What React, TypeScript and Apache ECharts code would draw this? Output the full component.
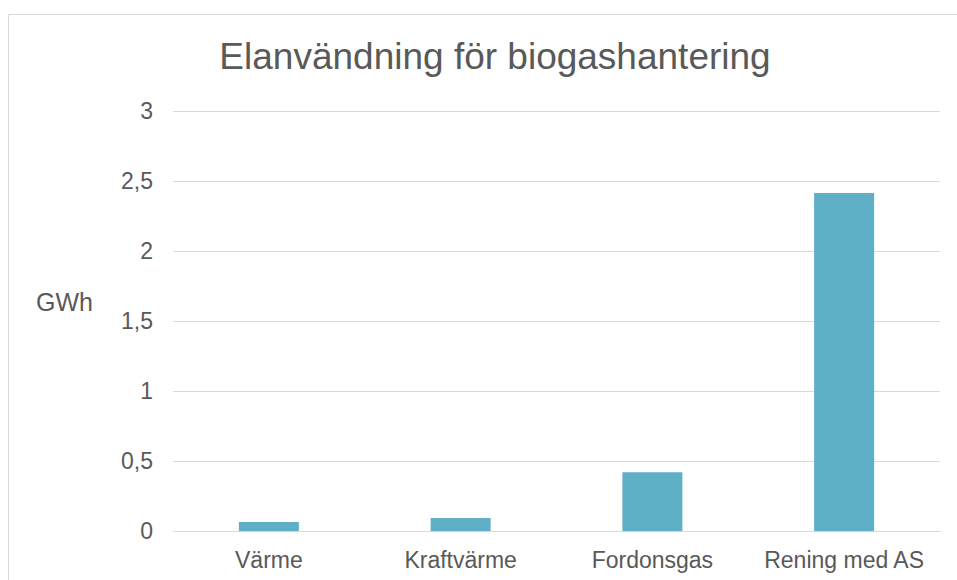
import React, { useEffect, useRef } from "react";
import * as echarts from "echarts";

const categories = ["Värme", "Kraftvärme", "Fordonsgas", "Rening med AS"];
const values = [0.065, 0.093, 0.42, 2.414];
const yTicks = [0, 0.5, 1, 1.5, 2, 2.5, 3];
const titleText = "Elanvändning för biogashantering";
const yUnit = "GWh";

export default function App() {
  const ref = useRef<HTMLDivElement>(null);
  useEffect(() => {
    if (!ref.current) return;
    const chart = echarts.init(ref.current, null, { renderer: "svg" });
    const font = "'Liberation Sans', Arial, sans-serif";
    chart.setOption({
      animation: false,
      backgroundColor: "#ffffff",
      textStyle: { fontFamily: font },
      title: {
        text: titleText,
        left: 490,
        top: 33,
        textAlign: "center",
        textStyle: { fontFamily: font, fontSize: 37, fontWeight: "normal", color: "#595959" },
      },
      graphic: [
        {
          type: "rect",
          shape: { x: 8.5, y: 14.5, width: 1100, height: 800 },
          style: { fill: "none", stroke: "#d9d9d9", lineWidth: 1 },
          silent: true,
          z: -1,
        },
        {
          type: "text",
          left: 36,
          top: 289,
          style: { text: yUnit, fontFamily: font, fontSize: 25, fill: "#595959" },
        },
      ],
      grid: { left: 173, right: 17, top: 111, bottom: 49, containLabel: false },
      xAxis: {
        type: "category",
        data: categories,
        axisLine: { show: true, lineStyle: { color: "#d9d9d9", width: 1 } },
        axisTick: { show: false },
        axisLabel: {
          color: "#595959",
          fontSize: 23,
          fontFamily: font,
          margin: 17,
          interval: 0,
          hideOverlap: false,
        },
      },
      yAxis: {
        type: "value",
        min: yTicks[0],
        max: yTicks[yTicks.length - 1],
        interval: 0.5,
        axisLine: { show: false },
        axisTick: { show: false },
        splitLine: { lineStyle: { color: "#d9d9d9", width: 1 } },
        axisLabel: {
          color: "#595959",
          fontSize: 23,
          fontFamily: font,
          margin: 20,
          formatter: (v: number) => String(v).replace(".", ","),
        },
      },
      series: [
        {
          type: "bar",
          data: values,
          barWidth: 60,
          itemStyle: { color: "#5fafc6" },
        },
      ],
    });
    return () => chart.dispose();
  }, []);
  return (
    <div
      ref={ref}
      style={{ position: "fixed", left: 0, top: 0, width: 957, height: 580 }}
    />
  );
}
